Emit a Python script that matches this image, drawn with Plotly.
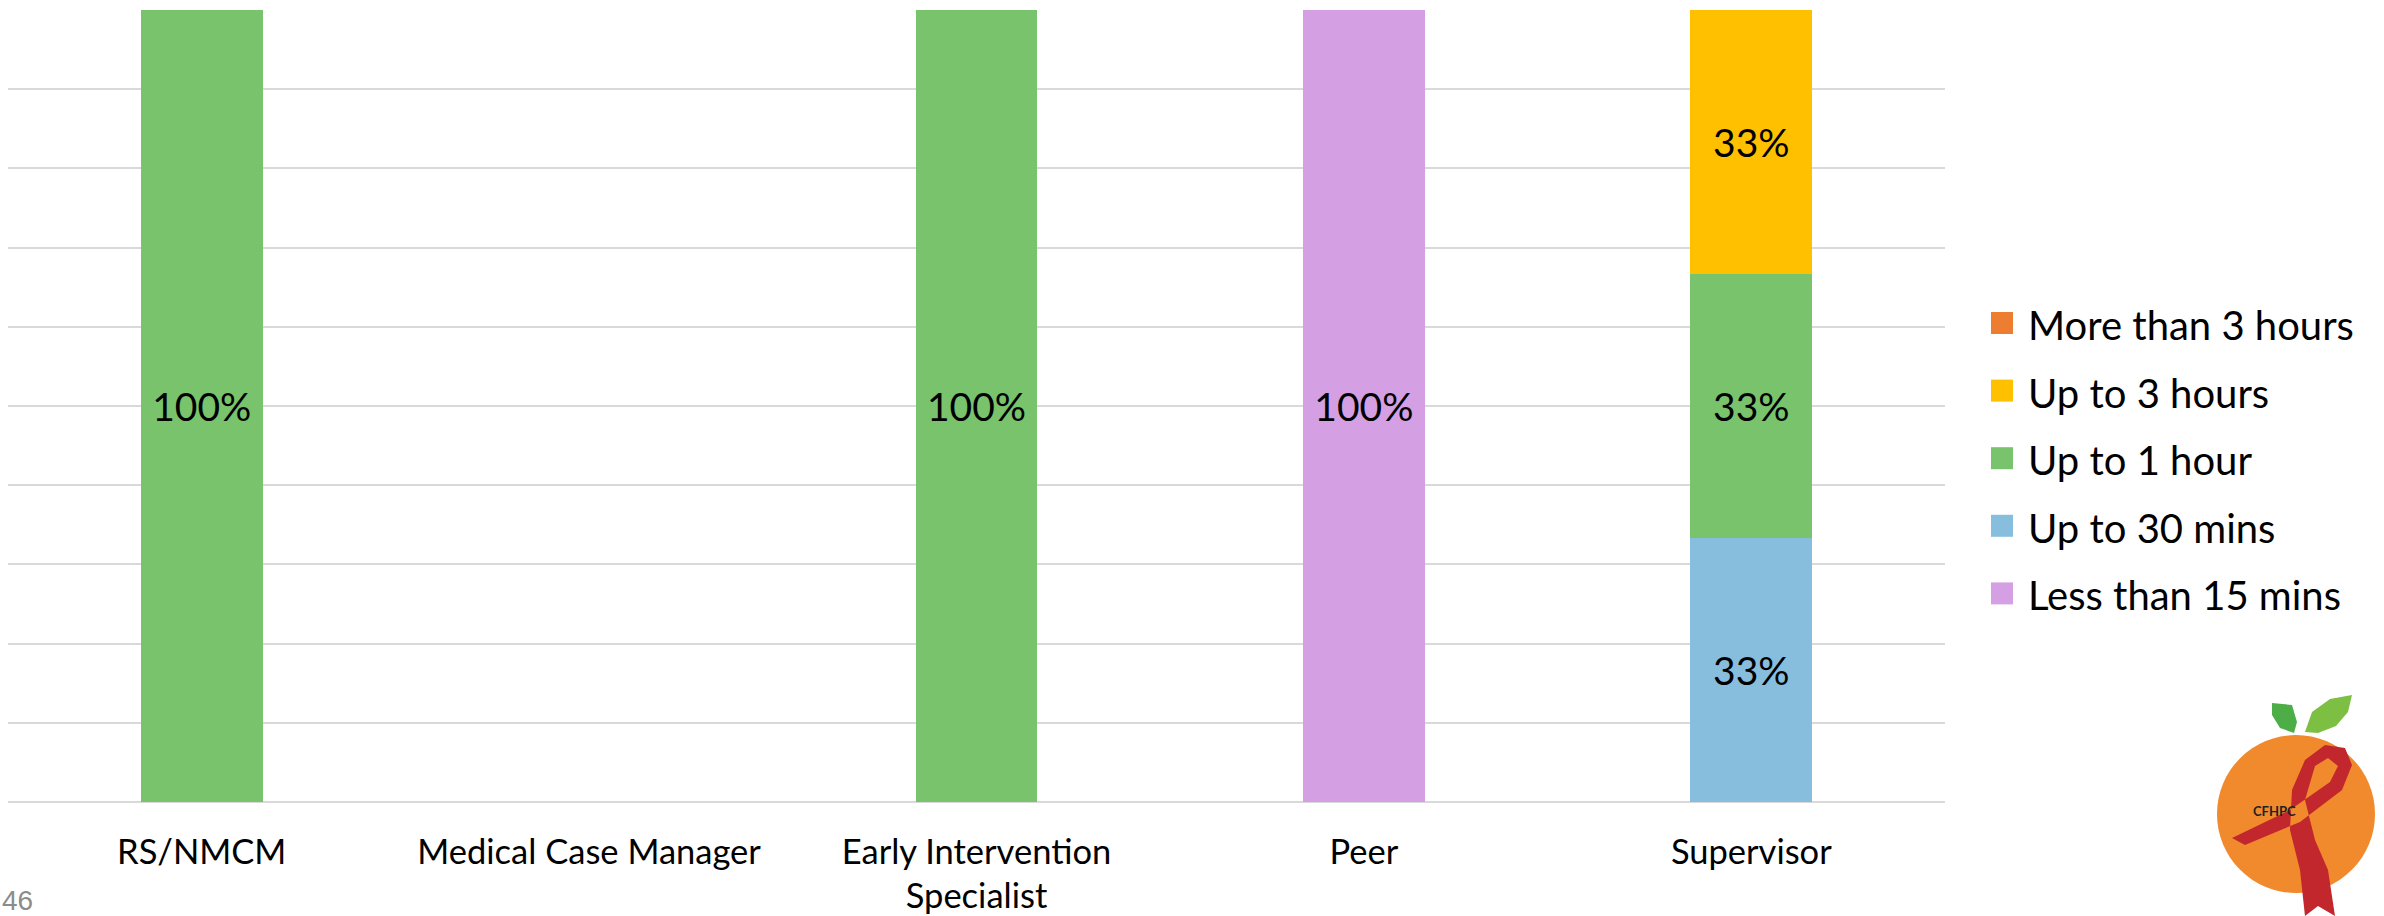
import plotly.graph_objects as go

categories = ["RS/NMCM", "Medical Case Manager", "Early Intervention<br>Specialist", "Peer", "Supervisor"]
series_names = ["Less than 15 mins", "Up to 30 mins", "Up to 1 hour", "Up to 3 hours", "More than 3 hours"]
less_15 = [None, None, None, 1.0, None]
up_30 = [None, None, None, None, 1/3]
up_1h = [1.0, None, 1.0, None, 1/3]
up_3h = [None, None, None, None, 1/3]
more_3h = [None, None, None, None, None]
colors = ["#D49FE3", "#88BEDD", "#78C36B", "#FFC000", "#ED7D31"]

W, H = 2384, 916
L, R, T, B = 8, 439, 10, 114
PW, PH = W - L - R, H - T - B

fig = go.Figure()
for name, vals, col in zip(series_names, [less_15, up_30, up_1h, up_3h, more_3h], colors):
    fig.add_trace(go.Bar(
        x=categories, y=vals, name=name, marker=dict(color=col, line=dict(width=0)),
        texttemplate="%{y:.0%}", textposition="inside", insidetextanchor="middle",
        textfont=dict(family="Lato", size=39, color="#000000"),
        constraintext="none", showlegend=False,
    ))

def px(x):
    return (x - L) / PW

def py(y):
    return (H - B - y) / PH

shapes = []
annotations = []

# legend drawn manually (larger swatches and spacing like the reference)
for i, (name, col) in enumerate(reversed(list(zip(series_names, colors)))):
    yc = 323 + i * 67.6
    shapes.append(dict(type="rect", xref="paper", yref="paper",
                       x0=px(1991), x1=px(2013), y0=py(yc + 11), y1=py(yc - 11),
                       fillcolor=col, line=dict(width=0)))
    annotations.append(dict(text=name, xref="paper", yref="paper", x=px(2026), y=py(yc + 2),
                            xanchor="left", yanchor="middle", showarrow=False,
                            font=dict(family="Lato", size=40, color="#000000")))

# logo: orange circle
shapes.append(dict(type="circle", xref="paper", yref="paper",
                   x0=px(2217), x1=px(2375), y0=py(893), y1=py(735),
                   fillcolor="#F08A2C", line=dict(width=0), layer="above"))

def pathp(pts):
    return "M " + " L ".join(f"{px(a):.5f},{py(b):.5f}" for a, b in pts) + " Z"

shapes.append(dict(type="path", xref="paper", yref="paper",
                   path=pathp([(2272, 703), (2292, 705), (2297, 722), (2294, 733), (2280, 728), (2272, 715)]),
                   fillcolor="#4DAE48", line=dict(width=0)))
shapes.append(dict(type="path", xref="paper", yref="paper",
                   path=pathp([(2305, 732), (2312, 712), (2330, 699), (2352, 695), (2348, 712), (2336, 726), (2318, 733)]),
                   fillcolor="#7CBF43", line=dict(width=0)))
shapes.append(dict(type="path", xref="paper", yref="paper",
                   path=pathp([(2305, 760), (2325, 745), (2345, 748), (2352, 765), (2342, 790), (2300, 822),
                               (2245, 845), (2232, 838), (2290, 810), (2330, 782), (2338, 766), (2328, 758),
                               (2315, 766), (2305, 800), (2315, 840), (2328, 870), (2335, 916), (2318, 906),
                               (2305, 916), (2300, 870), (2290, 830), (2292, 790)]),
                   fillcolor="#C1272D", line=dict(width=0)))

annotations.append(dict(text="46", xref="paper", yref="paper", x=px(0), y=py(900), xanchor="left",
                        yanchor="middle", showarrow=False,
                        font=dict(family="Liberation Sans", size=28, color="#8C8C8C")))
annotations.append(dict(text="<b>CFHPC</b>", xref="paper", yref="paper", x=px(2274), y=py(811),
                        xanchor="center", yanchor="middle", showarrow=False,
                        font=dict(family="Lato", size=13, color="#222222")))

fig.update_layout(
    width=W, height=H,
    margin=dict(l=L, r=R, t=T, b=B, pad=0, autoexpand=False),
    barmode="stack", bargap=0.686,
    plot_bgcolor="white", paper_bgcolor="white",
    font=dict(family="Lato", size=34, color="#000000"),
    showlegend=False,
    xaxis=dict(showgrid=False, showline=False, ticks="", ticklabelstandoff=26, automargin=False,
               tickfont=dict(family="Lato", size=34.5, color="#000000"), fixedrange=True),
    yaxis=dict(range=[0, 1], dtick=0.1, showticklabels=False, showgrid=True, gridcolor="#D9D9D9",
               gridwidth=2, zeroline=True, zerolinecolor="#D9D9D9", zerolinewidth=2, ticks="",
               automargin=False),
    shapes=shapes,
    annotations=annotations,
)

fig.write_html("out.html")
